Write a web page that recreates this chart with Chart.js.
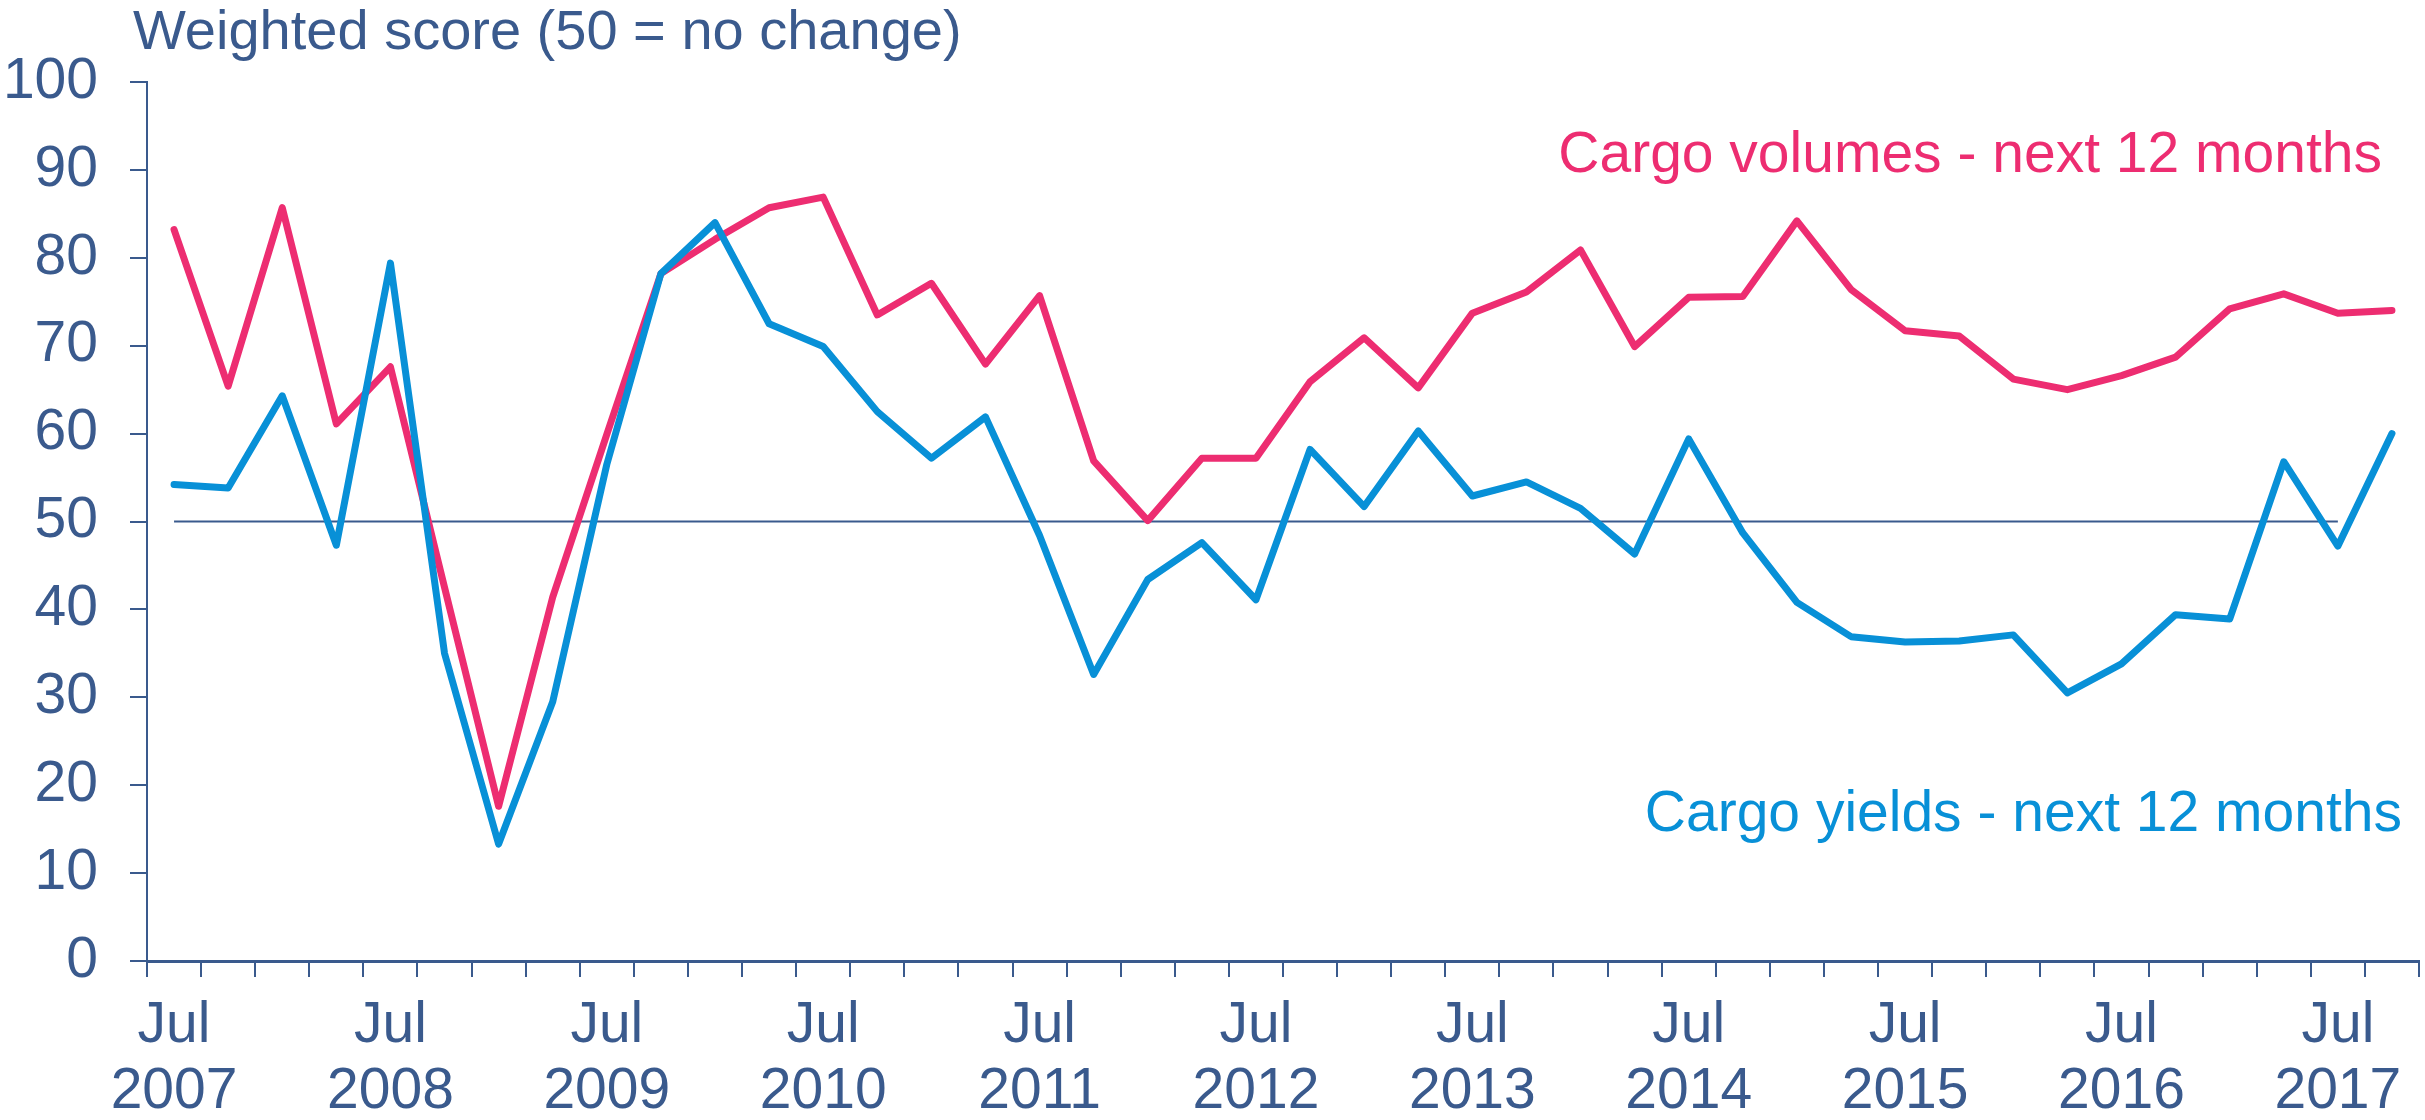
<!DOCTYPE html>
<html>
<head>
<meta charset="utf-8">
<script src="https://cdn.jsdelivr.net/npm/chart.js@4/dist/chart.umd.min.js"></script>
<style>
  html, body { margin: 0; padding: 0; background: #fff; }
  #wrap { width: 2425px; height: 1120px; }
</style>
</head>
<body>
<div id="wrap"><canvas id="chart" width="2425" height="1120"></canvas></div>
<script>
// Quarterly survey, Jul 2007 - Oct 2017
const categories = [
  'Jul 2007', 'Oct 2007', 'Jan 2008', 'Apr 2008',
  'Jul 2008', 'Oct 2008', 'Jan 2009', 'Apr 2009',
  'Jul 2009', 'Oct 2009', 'Jan 2010', 'Apr 2010',
  'Jul 2010', 'Oct 2010', 'Jan 2011', 'Apr 2011',
  'Jul 2011', 'Oct 2011', 'Jan 2012', 'Apr 2012',
  'Jul 2012', 'Oct 2012', 'Jan 2013', 'Apr 2013',
  'Jul 2013', 'Oct 2013', 'Jan 2014', 'Apr 2014',
  'Jul 2014', 'Oct 2014', 'Jan 2015', 'Apr 2015',
  'Jul 2015', 'Oct 2015', 'Jan 2016', 'Apr 2016',
  'Jul 2016', 'Oct 2016', 'Jan 2017', 'Apr 2017',
  'Jul 2017', 'Oct 2017'
];

const cargoVolumes = [
  83.2, 65.4, 85.7, 61.1, 67.6, 42.5, 17.6, 41.4, 59.9, 78.2,
  82.1, 85.7, 86.9, 73.5, 77.1, 67.9, 75.7, 56.9, 50.1,
  57.2, 57.2, 65.9, 70.9, 65.2, 73.7, 76.1, 80.9, 69.9, 75.5, 75.6, 84.2,
  76.4, 71.7, 71.1, 66.2, 65.0, 66.6, 68.7, 74.2, 75.9, 73.7, 74.0
];

const cargoYields = [
  54.2, 53.8, 64.3, 47.3, 79.4, 35.0, 13.3, 29.5, 56.5, 78.2,
  84.0, 72.5, 69.9, 62.5, 57.2, 61.9, 48.4, 32.6, 43.4,
  47.6, 41.1, 58.2, 51.7, 60.3, 52.9, 54.5, 51.5, 46.3, 59.4, 48.7, 40.8,
  36.9, 36.3, 36.4, 37.1, 30.5, 33.8, 39.4, 38.9, 56.8, 47.2, 60.0
];

// 50 = no change reference line (Jul 2007 to Jul 2017)
const noChange = [{ x: 'Jul 2007', y: 50 }, { x: 'Jul 2017', y: 50 }];

const yTicks = [0, 10, 20, 30, 40, 50, 60, 70, 80, 90, 100];

const PINK = '#ED2D71';
const BLUE = '#0890D7';
const NAVY = '#3A5A8D';
const FONT = '"Liberation Sans", Arial, sans-serif';

const textLabels = {
  id: 'textLabels',
  afterDraw(chart) {
    const { ctx, chartArea, scales } = chart;
    const y = scales.y;
    ctx.save();
    ctx.textBaseline = 'alphabetic';

    ctx.font = `56px ${FONT}`;
    ctx.fillStyle = NAVY;
    ctx.textAlign = 'left';
    ctx.fillText('Weighted score (50 = no change)', chartArea.left - 14, 49);

    ctx.font = `57px ${FONT}`;
    ctx.textAlign = 'right';
    ctx.fillStyle = PINK;
    ctx.fillText('Cargo volumes - next 12 months', chartArea.right - 37, y.getPixelForValue(89.8));
    ctx.fillStyle = BLUE;
    ctx.fillText('Cargo yields - next 12 months', chartArea.right - 17, y.getPixelForValue(14.8));
    ctx.restore();
  }
};

new Chart(document.getElementById('chart'), {
  type: 'line',
  data: {
    labels: categories,
    datasets: [
      {
        label: 'Cargo yields - next 12 months',
        data: cargoYields,
        borderColor: BLUE,
        borderWidth: 7,
        borderJoinStyle: 'round',
        borderCapStyle: 'round',
        pointRadius: 0,
        tension: 0,
        order: 0
      },
      {
        label: 'Cargo volumes - next 12 months',
        data: cargoVolumes,
        borderColor: PINK,
        borderWidth: 7,
        borderJoinStyle: 'round',
        borderCapStyle: 'round',
        pointRadius: 0,
        tension: 0,
        order: 1
      },
      {
        label: 'No change',
        data: noChange,
        borderColor: NAVY,
        borderWidth: 2,
        pointRadius: 0,
        order: 2
      }
    ]
  },
  options: {
    responsive: false,
    animation: false,
    devicePixelRatio: 1,
    layout: { padding: { top: 82, right: 6, bottom: 0, left: 0 } },
    plugins: { legend: { display: false }, tooltip: { enabled: false }, title: { display: false } },
    scales: {
      x: {
        type: 'category',
        offset: true,
        afterFit: s => { s.height = 159; },
        grid: {
          offset: true,
          drawOnChartArea: false,
          drawTicks: true,
          tickLength: 16,
          tickColor: NAVY,
          lineWidth: 2
        },
        border: { display: true, color: NAVY, width: 3 },
        ticks: {
          autoSkip: false,
          maxRotation: 0,
          minRotation: 0,
          padding: 16,
          color: NAVY,
          font: { family: FONT, size: 57, lineHeight: 1.16 },
          callback: function (val) {
            const lab = this.getLabelForValue(val);
            return lab.startsWith('Jul') ? lab.split(' ') : '';
          }
        }
      },
      y: {
        min: 0,
        max: 100,
        afterFit: s => { s.width = 147; },
        afterBuildTicks: s => { s.ticks = yTicks.map(v => ({ value: v })); },
        grid: {
          drawOnChartArea: false,
          drawTicks: true,
          tickLength: 17,
          tickColor: NAVY,
          lineWidth: 2
        },
        border: { display: true, color: NAVY, width: 2 },
        ticks: {
          padding: 32,
          color: NAVY,
          font: { family: FONT, size: 57 }
        }
      }
    }
  },
  plugins: [textLabels]
});
</script>
</body>
</html>
